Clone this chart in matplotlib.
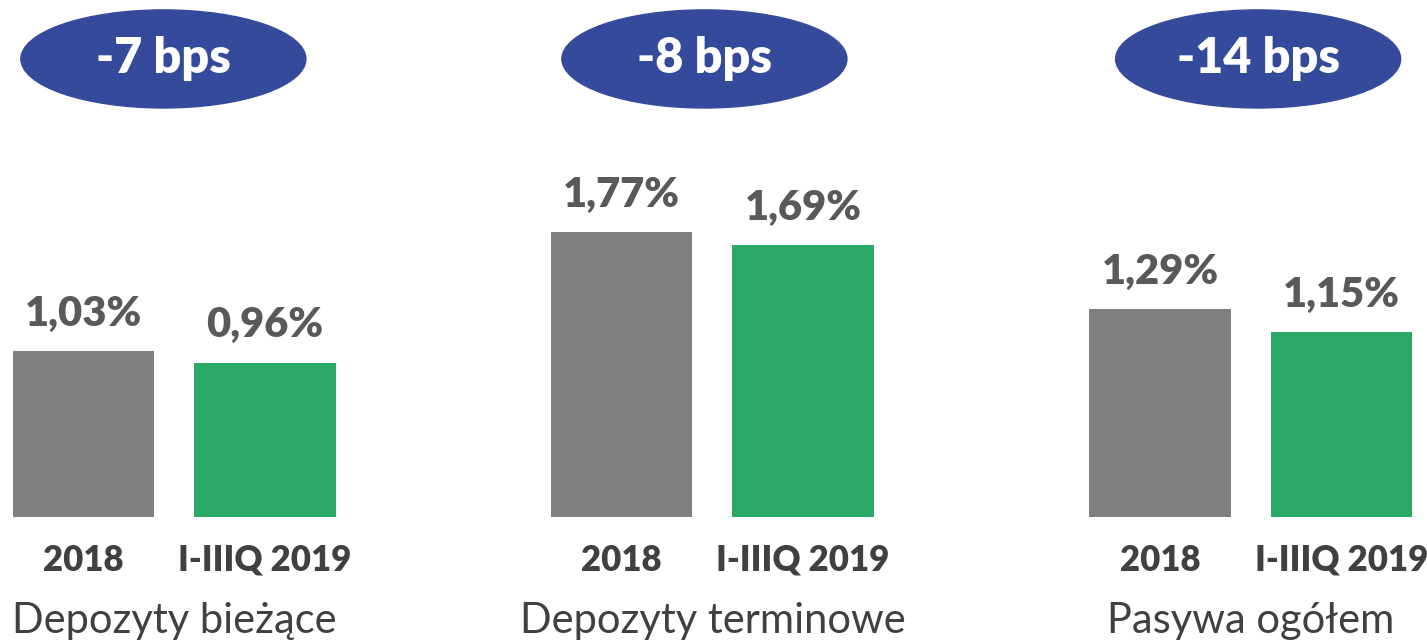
import matplotlib.pyplot as plt
from matplotlib.patches import Ellipse
import numpy as np

plt.rcParams['font.family'] = ['Lato', 'DejaVu Sans']

groups = ['Depozyty bieżące', 'Depozyty terminowe', 'Pasywa ogółem']
periods = ['2018', 'I-IIIQ 2019']
vals_2018 = [1.03, 1.77, 1.29]
vals_2019 = [0.96, 1.69, 1.15]
changes = ['-7 bps', '-8 bps', '-14 bps']

gray = '#7F7F7F'
green = '#2AAA66'
blue = '#354A9B'

fig = plt.figure(figsize=(14.27, 6.44), dpi=100)
ax = fig.add_axes([0, 0.197, 1, 0.803])

gx = np.array([0, 2.964, 5.93])  # left bar of each group
w = 0.78
b1 = ax.bar(gx, vals_2018, w, color=gray)
b2 = ax.bar(gx + 1, vals_2019, w, color=green)

for bars, vals in [(b1, vals_2018), (b2, vals_2019)]:
    for r, v in zip(bars, vals):
        ax.annotate(f'{v:.2f}%'.replace('.', ','), (r.get_x() + r.get_width() / 2, v),
                    xytext=(0, 13), textcoords='offset points', ha='center', va='bottom',
                    fontsize=30, fontweight='heavy', color='#595959')

ticks = np.concatenate([gx, gx + 1])
ax.set_xticks(np.sort(ticks))
ax.set_xticklabels(periods * 3, fontsize=25, fontweight='heavy', color='#404040')
ax.tick_params(axis='x', length=0, pad=19)
ax.set_yticks([])

ell_x = [0.44, 3.42, 6.47]
for ex, txt, cx, name in zip(ell_x, changes, gx + 0.5, groups):
    ax.add_patch(Ellipse((ex, 2.845), 1.57, 0.609, color=blue, clip_on=False))
    ax.text(ex, 2.845, txt, ha='center', va='center', color='white',
            fontsize=35, fontweight='heavy')
    ax.text(cx, -0.646, name, ha='center', va='center', fontsize=30, color='#404040')

ax.set_xlim(-0.46, 7.40)
ax.set_ylim(0, 3.211)
for s in ax.spines.values():
    s.set_visible(False)

plt.savefig('out.png', dpi=100)
